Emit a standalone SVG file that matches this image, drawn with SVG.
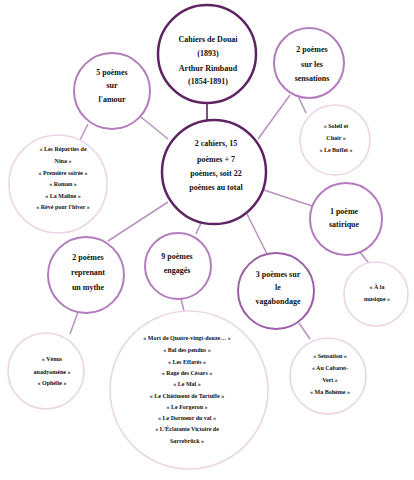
<svg xmlns="http://www.w3.org/2000/svg" width="414" height="480" viewBox="0 0 414 480">
<style>
.main{fill:#fff;stroke:#5e2363;stroke-width:2.5}
.mid{fill:#fff;stroke:#b27cbd;stroke-width:2}
.leaf{fill:#fff;stroke:#ead7e6;stroke-width:1.6}
.con{stroke:#b995c0;stroke-width:1.6;fill:none}
text{font-family:"Liberation Serif","Times New Roman",serif;font-weight:bold;fill:#111;text-anchor:middle}
.t{font-size:8px}
.s{font-size:6px}
</style>
<rect width="414" height="480" fill="#fff"/>
<g id="connectors">
<line class="con" x1="207" y1="102" x2="207" y2="121" style="stroke:#5e2363"/>
<line class="con" x1="141" y1="117" x2="168" y2="139"/>
<line class="con" x1="88" y1="124" x2="80" y2="140"/>
<line class="con" x1="258" y1="139" x2="290" y2="95"/>
<line class="con" x1="298" y1="96" x2="306" y2="113"/>
<line class="con" x1="264" y1="190" x2="312" y2="206"/>
<line class="con" x1="360" y1="252" x2="371" y2="266"/>
<line class="con" x1="168" y1="202" x2="108" y2="241"/>
<line class="con" x1="201" y1="223" x2="196" y2="234"/>
<line class="con" x1="247" y1="214" x2="268" y2="256"/>
<line class="con" x1="181" y1="299" x2="184" y2="311"/>
<line class="con" x1="78" y1="312" x2="70" y2="334"/>
<line class="con" x1="299" y1="323" x2="310" y2="339"/>
</g>
<g id="n-cahiers">
<circle class="main" cx="207" cy="54" r="49"/>
<text class="t" x="208" y="42">Cahiers de Douai</text>
<text class="t" x="208" y="56">(1893)</text>
<text class="t" x="208" y="71">Arthur Rimbaud</text>
<text class="t" x="208" y="84">(1854-1891)</text>
</g>
<g id="n-center">
<circle class="main" cx="214" cy="172" r="52"/>
<text class="t" x="216" y="146">2 cahiers, 15</text>
<text class="t" x="216" y="162">poèmes + 7</text>
<text class="t" x="216" y="176">poèmes, soit 22</text>
<text class="t" x="216" y="190">poèmes au total</text>
</g>
<g id="n-amour">
<circle class="mid" cx="112" cy="91" r="38"/>
<text class="t" x="112" y="75">5 poèmes</text>
<text class="t" x="112" y="88">sur</text>
<text class="t" x="112" y="102">l'amour</text>
</g>
<g id="n-amour-list">
<circle class="leaf" cx="58" cy="184" r="49"/>
<text class="s" x="63" y="151">« Les Réparties de</text>
<text class="s" x="63" y="163">Nina »</text>
<text class="s" x="63" y="175">« Première soirée »</text>
<text class="s" x="63" y="186">« Roman »</text>
<text class="s" x="63" y="198">« La Maline »</text>
<text class="s" x="63" y="209">« Rêvé pour l'hiver »</text>
</g>
<g id="n-sensations">
<circle class="mid" cx="309" cy="63" r="35"/>
<text class="t" x="312" y="52">2 poèmes</text>
<text class="t" x="312" y="67">sur les</text>
<text class="t" x="312" y="81">sensations</text>
</g>
<g id="n-sensations-list">
<circle class="leaf" cx="335" cy="140" r="35"/>
<text class="s" x="336" y="128">« Soleil et</text>
<text class="s" x="336" y="140">Chair »</text>
<text class="s" x="336" y="152">« Le Buffet »</text>
</g>
<g id="n-satirique">
<circle class="mid" cx="346" cy="219" r="36"/>
<text class="t" x="344" y="214">1 poème</text>
<text class="t" x="344" y="227">satirique</text>
</g>
<g id="n-satirique-list">
<circle class="leaf" cx="376" cy="294" r="32"/>
<text class="s" x="377" y="289">« À la</text>
<text class="s" x="377" y="301">musique »</text>
</g>
<g id="n-mythe">
<circle class="mid" cx="86" cy="275" r="38"/>
<text class="t" x="88" y="260">2 poèmes</text>
<text class="t" x="88" y="275">reprenant</text>
<text class="t" x="88" y="290">un mythe</text>
</g>
<g id="n-mythe-list">
<circle class="leaf" cx="46" cy="371" r="38"/>
<text class="s" x="52" y="361">« Vénus</text>
<text class="s" x="52" y="374">anadyomène »</text>
<text class="s" x="52" y="385">« Ophélie »</text>
</g>
<g id="n-engages">
<circle class="mid" cx="178" cy="266" r="33"/>
<text class="t" x="177" y="259">9 poèmes</text>
<text class="t" x="177" y="273">engagés</text>
</g>
<g id="n-engages-list">
<circle class="leaf" cx="189" cy="390" r="79"/>
<text class="s" x="187" y="340">« Mort de Quatre-vingt-douze… »</text>
<text class="s" x="187" y="352">« Bal des pendus »</text>
<text class="s" x="187" y="364">« Les Effarés »</text>
<text class="s" x="187" y="375">« Rage des Césars »</text>
<text class="s" x="187" y="386">« Le Mal »</text>
<text class="s" x="187" y="398">« Le Châtiment de Tartuffe »</text>
<text class="s" x="187" y="409">« Le Forgeron »</text>
<text class="s" x="187" y="420">« Le Dormeur du val »</text>
<text class="s" x="187" y="431">« L'Éclatante Victoire de</text>
<text class="s" x="187" y="443">Sarrebrück »</text>
</g>
<g id="n-vagabondage">
<circle class="mid" cx="276" cy="291" r="38" style="stroke:#9c5ea6"/>
<text class="t" x="278" y="277">3 poèmes sur</text>
<text class="t" x="278" y="290">le</text>
<text class="t" x="278" y="304">vagabondage</text>
</g>
<g id="n-vagabondage-list">
<circle class="leaf" cx="328" cy="376" r="38"/>
<text class="s" x="330" y="358">« Sensation »</text>
<text class="s" x="330" y="370">« Au Cabaret-</text>
<text class="s" x="330" y="382">Vert »</text>
<text class="s" x="330" y="394">« Ma Bohème »</text>
</g>
</svg>
